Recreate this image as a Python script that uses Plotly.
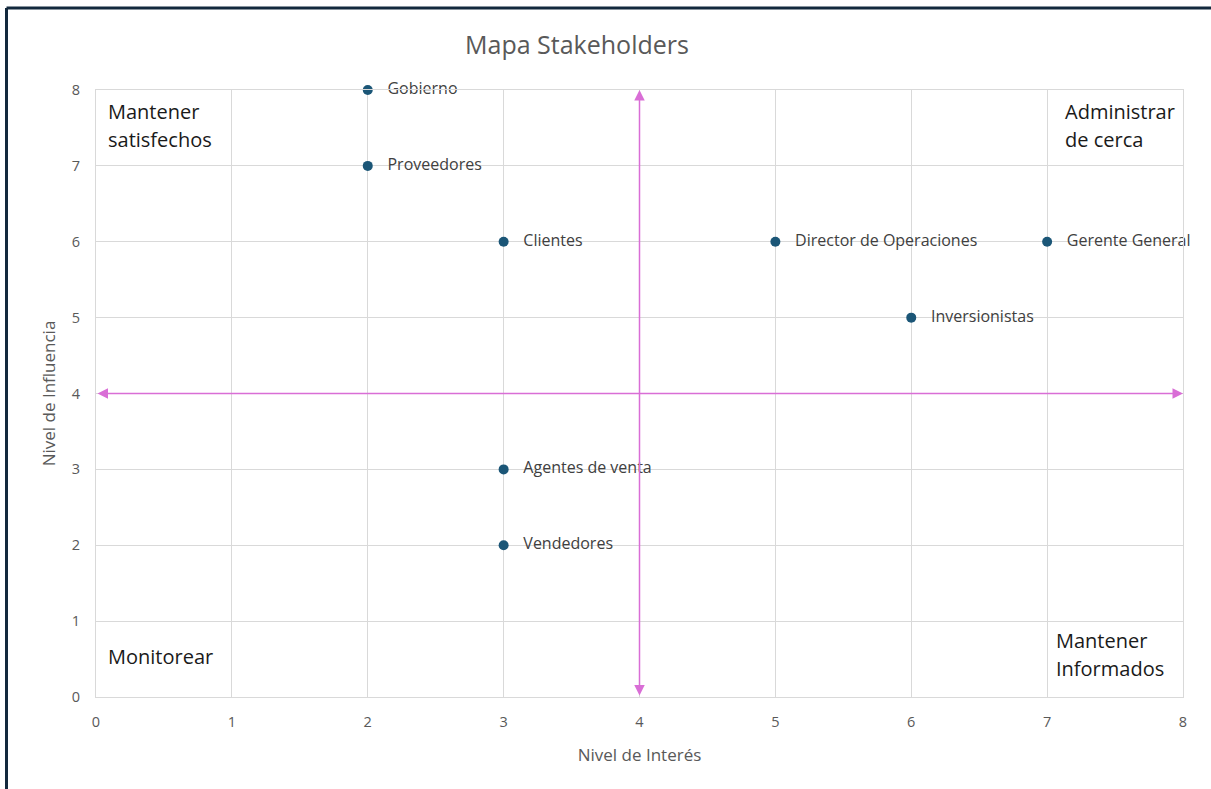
import plotly.graph_objects as go

# Stakeholder positions: interest (x) vs influence (y)
stakeholders = ["Gobierno", "Proveedores", "Clientes", "Director de Operaciones",
                "Gerente General", "Inversionistas", "Agentes de venta", "Vendedores"]
interes = [2, 2, 3, 5, 7, 6, 3, 3]
influencia = [8, 7, 6, 6, 6, 5, 3, 2]

# Quadrant captions, one entry per text line
cuadrante_lineas = ["Mantener", "satisfechos", "Administrar", "de cerca",
                    "Monitorear", "Mantener", "Informados"]
cuad_x = [0.075, 0.075, 7.12, 7.12, 0.07, 7.05, 7.05]
cuad_y = [7.72, 7.35, 7.72, 7.35, 0.53, 0.75, 0.38]

axis_ticks = [0, 1, 2, 3, 4, 5, 6, 7, 8]
mid = 4

W, H = 1211, 789
L, R, T, B = 96, 28, 90, 92
pw, ph = W - L - R, H - T - B
FONT = "Open Sans, sans-serif"

fig = go.Figure()

fig.add_trace(go.Scatter(
    x=interes, y=influencia, mode="markers+text",
    text=["   " + s for s in stakeholders], textposition="middle right",
    textfont=dict(family=FONT, size=16, color="#404040"),
    marker=dict(size=10, color="#1b5677"),
    cliponaxis=False, showlegend=False, hoverinfo="skip",
))

arrow_color = "#d96ed6"
# Horizontal and vertical double-headed dividers
fig.add_annotation(x=axis_ticks[-1], y=mid, ax=axis_ticks[0], ay=mid,
                   xref="x", yref="y", axref="x", ayref="y",
                   showarrow=True, arrowhead=2, startarrowhead=2, arrowside="end+start",
                   arrowwidth=1.5, arrowsize=1.4, startarrowsize=1.4,
                   arrowcolor=arrow_color, text="")
fig.add_annotation(x=mid, y=axis_ticks[-1], ax=mid, ay=axis_ticks[0],
                   xref="x", yref="y", axref="x", ayref="y",
                   showarrow=True, arrowhead=2, startarrowhead=2, arrowside="end+start",
                   arrowwidth=1.5, arrowsize=1.4, startarrowsize=1.4,
                   arrowcolor=arrow_color, text="")

for label, cx, cy in zip(cuadrante_lineas, cuad_x, cuad_y):
    fig.add_annotation(x=cx, y=cy, xref="x", yref="y", text=label, showarrow=False,
                       xanchor="left", yanchor="middle", align="left",
                       font=dict(family=FONT, size=20, color="#1a1a1a"))

# Outer frame (top and left edges)
fx = (6.5 - L) / pw
fy = 1 + (T - 8) / ph
fig.add_shape(type="line", xref="paper", yref="paper", x0=fx, x1=fx, y0=-0.3, y1=fy,
              line=dict(color="#13293d", width=3))
fig.add_shape(type="line", xref="paper", yref="paper", x0=fx, x1=1.2, y0=fy, y1=fy,
              line=dict(color="#13293d", width=3))

axis_common = dict(
    range=[0, 8], tickvals=axis_ticks, showgrid=True, gridcolor="#d9d9d9", gridwidth=1,
    zeroline=False, showline=True, linecolor="#d9d9d9", linewidth=1, mirror=True,
    tickfont=dict(family=FONT, size=14.5, color="#595959"),
    ticks="outside", ticklen=12, tickcolor="rgba(0,0,0,0)", fixedrange=True,
)

fig.update_layout(
    width=W, height=H,
    margin=dict(l=L, r=R, t=T, b=B),
    paper_bgcolor="white", plot_bgcolor="white",
    title=dict(text="Mapa Stakeholders", x=577 / W, xanchor="center", y=1 - 45 / H, yanchor="middle",
               font=dict(family=FONT, size=25, color="#595959")),
    xaxis=dict(axis_common, title=dict(text="Nivel de Interés", standoff=18,
               font=dict(family=FONT, size=17, color="#595959"))),
    yaxis=dict(axis_common, title=dict(text="Nivel de Influencia", standoff=11,
               font=dict(family=FONT, size=17, color="#595959"))),
)

fig.write_html("out.html")
